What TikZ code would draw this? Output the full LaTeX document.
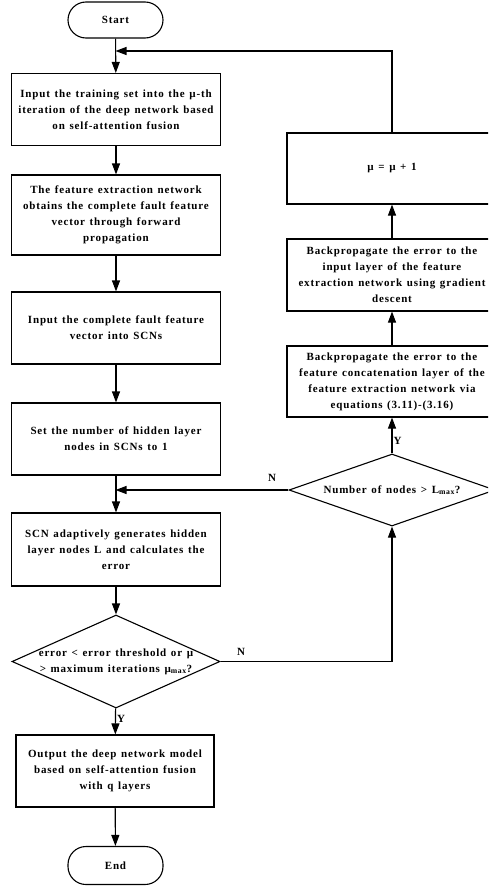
\documentclass[tikz,border=0pt]{standalone}
\usepackage{fontspec}
\setmainfont{Liberation Serif}[LetterSpace=7.5,WordSpace=1.3]
\usepackage{tikz}
\usetikzlibrary{shapes}
\usetikzlibrary{shapes.geometric}
\usetikzlibrary{arrows.meta}
\usetikzlibrary{positioning}

\begin{document}
\begin{tikzpicture}[
	x=1pt, y=-1pt,
	line width=1.1pt,
	font=\fontsize{11}{16}\selectfont\bfseries
]
\tikzset{
    mybox/.style = {rectangle, draw=black, align=center, inner sep=2pt, minimum width=209pt, minimum height=72pt},
    myterm/.style = {rectangle, rounded corners=18pt, draw=black, minimum width=95pt, minimum height=36pt},
    mydiam/.style = {diamond, draw=black, inner sep=0pt},
    myarrow/.style = {-{Triangle[length=11pt,width=8pt]}},
    mylbl/.style = {inner sep=1pt}
}
\useasboundingbox (0,0) rectangle (488,886);
\clip (0,0) rectangle (488,886);
% left column
\node[myterm] (start) at (115.5,20) {Start};
\node[mybox] (train) at (116,109.5) {Input the training set into the \textmu-th\\iteration of the deep network based\\on self-attention fusion};
\node[mybox,minimum height=80pt] (fwd) at (116,215) {The feature extraction network\\obtains the complete fault feature\\vector through forward\\propagation};
\node[mybox] (scn) at (116,328) {Input the complete fault feature\\vector into SCNs};
\node[mybox] (hid) at (116,439) {Set the number of hidden layer\\nodes in SCNs to 1};
\node[mybox,minimum height=73pt] (gen) at (116,549.5) {SCN adaptively generates hidden\\layer nodes L and calculates the\\error};
\node[mydiam,minimum width=208pt,minimum height=93pt,
      label={[align=center]center:error < error threshold or \textmu\\> maximum iterations \textmu\textsubscript{max}?}] (err) at (116,661.5) {};
\node[mybox,minimum width=198pt] (out) at (115,771) {Output the deep network model\\based on self-attention fusion\\with q layers};
\node[myterm,minimum height=38pt] (end) at (115.5,865.5) {End};
% right column
\node[mybox,minimum width=210pt,minimum height=71pt] (inc) at (392,168.5) {\textmu{} = \textmu{} + 1};
\node[mybox,minimum width=210pt] (bpin) at (392,275) {Backpropagate the error to the\\input layer of the feature\\extraction network using gradient\\descent};
\node[mybox,minimum width=210pt,minimum height=71pt] (bpcat) at (392,381.5) {Backpropagate the error to the\\feature concatenation layer of the\\feature extraction network via\\equations (3.11)-(3.16)};
\node[mydiam,minimum width=206pt,minimum height=72pt,
      label={center:Number of nodes > L\textsubscript{max}?}] (num) at (392,490) {};
% joins
\coordinate (j1) at (115.5,51);
\coordinate (j2) at (115.5,490);
\coordinate (c1) at (392,661.5);
% connectors
\draw[myarrow] (start) -- (train);
\draw[myarrow] (train) -- (fwd);
\draw[myarrow] (fwd) -- (scn);
\draw[myarrow] (scn) -- (hid);
\draw[myarrow] (hid) -- (gen);
\draw[myarrow] (gen) -- (err);
\draw[myarrow] (err) -- node[mylbl,right,pos=0.4]{Y} (out);
\draw[myarrow] (out) -- (end);
\draw[myarrow] (err.east) -- (c1) -- (num.south);
\draw[myarrow] (num.west) -- (j2);
\draw[myarrow] (num.north) -- node[mylbl,right,pos=0.35]{Y} (bpcat);
\draw[myarrow] (bpcat) -- (bpin);
\draw[myarrow] (bpin) -- (inc);
\draw[myarrow] (inc.north) |- (j1);
\node[mylbl] (n1) at (241,652) {N};
\node[mylbl] (n2) at (272,478) {N};
\end{tikzpicture}
\end{document}
